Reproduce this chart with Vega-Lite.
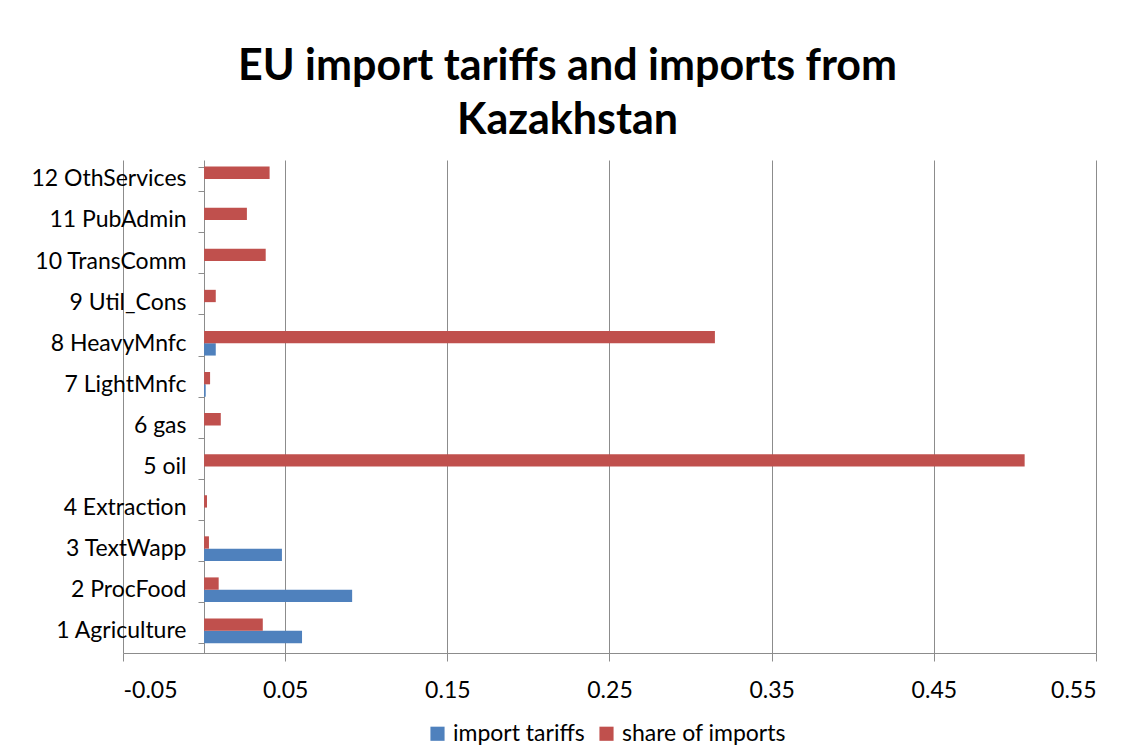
{
  "$schema": "https://vega.github.io/schema/vega-lite/v6.json",
  "autosize": {"type": "none"},
  "width": 973,
  "height": 493,
  "padding": {"left": 123, "top": 160, "right": 39, "bottom": 97},
  "background": "white",
  "title": {
    "text": ["EU import tariffs and imports from", "Kazakhstan"],
    "font": "Lato",
    "fontSize": 43,
    "fontWeight": "bold",
    "lineHeight": 54,
    "color": "black",
    "anchor": "middle",
    "frame": "group",
    "dx": -42,
    "offset": 6
  },
  "data": {
    "values": [
      {"sector": "1 Agriculture", "series": "import tariffs", "value": 0.0604},
      {"sector": "1 Agriculture", "series": "share of imports", "value": 0.0362},
      {"sector": "2 ProcFood", "series": "import tariffs", "value": 0.0913},
      {"sector": "2 ProcFood", "series": "share of imports", "value": 0.009},
      {"sector": "3 TextWapp", "series": "import tariffs", "value": 0.048},
      {"sector": "3 TextWapp", "series": "share of imports", "value": 0.003},
      {"sector": "4 Extraction", "series": "import tariffs", "value": 0.0},
      {"sector": "4 Extraction", "series": "share of imports", "value": 0.0018},
      {"sector": "5 oil", "series": "import tariffs", "value": 0.0},
      {"sector": "5 oil", "series": "share of imports", "value": 0.506},
      {"sector": "6 gas", "series": "import tariffs", "value": 0.0},
      {"sector": "6 gas", "series": "share of imports", "value": 0.0103},
      {"sector": "7 LightMnfc", "series": "import tariffs", "value": 0.001},
      {"sector": "7 LightMnfc", "series": "share of imports", "value": 0.0037},
      {"sector": "8 HeavyMnfc", "series": "import tariffs", "value": 0.0072},
      {"sector": "8 HeavyMnfc", "series": "share of imports", "value": 0.315},
      {"sector": "9 Util_Cons", "series": "import tariffs", "value": 0.0},
      {"sector": "9 Util_Cons", "series": "share of imports", "value": 0.0072},
      {"sector": "10 TransComm", "series": "import tariffs", "value": 0.0},
      {"sector": "10 TransComm", "series": "share of imports", "value": 0.038},
      {"sector": "11 PubAdmin", "series": "import tariffs", "value": 0.0},
      {"sector": "11 PubAdmin", "series": "share of imports", "value": 0.0264},
      {"sector": "12 OthServices", "series": "import tariffs", "value": 0.0},
      {"sector": "12 OthServices", "series": "share of imports", "value": 0.0404}
    ]
  },
  "mark": {"type": "bar"},
  "encoding": {
    "y": {
      "field": "sector",
      "type": "nominal",
      "sort": ["12 OthServices", "11 PubAdmin", "10 TransComm", "9 Util_Cons", "8 HeavyMnfc", "7 LightMnfc", "6 gas", "5 oil", "4 Extraction", "3 TextWapp", "2 ProcFood", "1 Agriculture"],
      "scale": {"paddingInner": 0.4, "paddingOuter": 0.2, "align": 0.4},
      "axis": {
        "title": null,
        "offset": -81,
        "labelFont": "Lato",
        "labelFontSize": 23,
        "labelColor": "black",
        "labelPadding": 12,
        "ticks": true,
        "tickBand": "extent",
        "tickSize": 6,
        "tickColor": "#8c8c8c",
        "domainColor": "#8c8c8c",
        "domainWidth": 1,
        "grid": false
      }
    },
    "yOffset": {
      "field": "series",
      "type": "nominal",
      "sort": ["share of imports", "import tariffs"],
      "scale": {"paddingInner": 0, "paddingOuter": 0}
    },
    "x": {
      "field": "value",
      "type": "quantitative",
      "scale": {"domain": [-0.05, 0.55], "nice": false, "zero": false},
      "axis": {
        "title": null,
        "values": [-0.05, 0.05, 0.15, 0.25, 0.35, 0.45, 0.55],
        "labelExpr": "replace(format(datum.value, '.2f'), '\u2212', '-')",
        "labelFont": "Lato",
        "labelFontSize": 23,
        "labelColor": "black",
        "labelPadding": 18,
        "tickSize": 8,
        "tickColor": "#8c8c8c",
        "domainColor": "#8c8c8c",
        "grid": true,
        "gridColor": "#8c8c8c",
        "gridWidth": 1
      }
    },
    "color": {
      "field": "series",
      "type": "nominal",
      "scale": {"domain": ["import tariffs", "share of imports"], "range": ["#4F81BD", "#C0504D"]},
      "legend": {
        "title": null,
        "orient": "none",
        "direction": "horizontal",
        "legendX": 303,
        "legendY": 562,
        "symbolType": "square",
        "symbolSize": 200,
        "symbolStrokeWidth": 0,
        "labelFont": "Lato",
        "labelFontSize": 23,
        "labelColor": "black",
        "columnPadding": 10,
        "labelLimit": 300
      }
    }
  },
  "config": {
    "view": {"stroke": null}
  }
}
